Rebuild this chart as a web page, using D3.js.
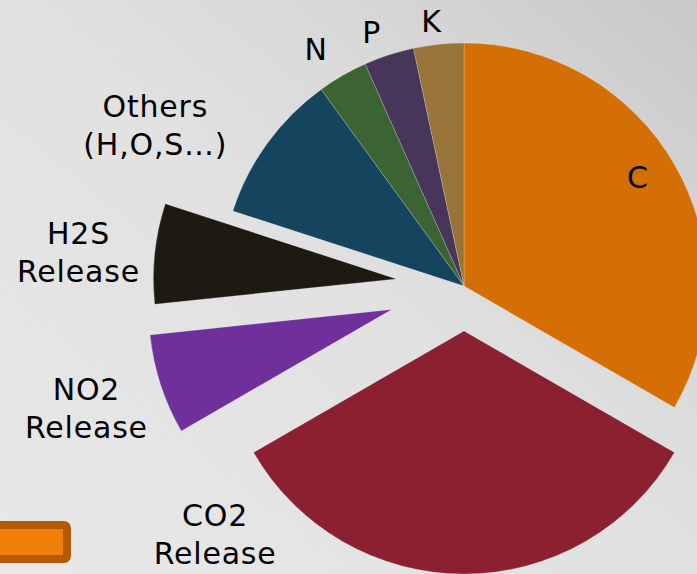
<!DOCTYPE html>
<html>
<head>
<meta charset="utf-8">
<title>Nutrient pie</title>
<script src="https://d3js.org/d3.v7.min.js"></script>
<style>
	html, body { margin: 0; padding: 0; overflow: hidden; }
	svg { display: block; }
	.lbl { font-family: "DejaVu Sans", Verdana, sans-serif; font-size: 30px; letter-spacing: 0.8px; fill: #000; text-anchor: middle; }
</style>
</head>
<body>
<svg width="697" height="574"></svg>
<script>
// slice names and values (clockwise from 12 o'clock)
var names = ["C", "CO2 Release", "NO2 Release", "H2S Release", "Others (H,O,S…)", "N", "P", "K"];
var values = [10, 10, 2, 2, 3, 1, 1, 1];
var colors = ["#d46f06", "#8b2030", "#70309c", "#1e1a12", "#15445e", "#3c6333", "#47365a", "#99743a"];
// how far each slice is pulled out of the pie
var explode = [0, 45, 76, 68, 0, 0, 0, 0];
// label lines
var labelLines = [["C"], ["CO2", "Release"], ["NO2", "Release"], ["H2S", "Release"], ["Others", "(H,O,S…)"], ["N"], ["P"], ["K"]];
// label place, polar from pie centre: [angle in degrees, radius]
var labelPolar = [[58, 205], [225, 352], [252, 397], [275, 387], [297.5, 348], [328, 279], [340, 270], [353, 266]];

var svg = d3.select("svg"),
	width = +svg.attr("width"),
	height = +svg.attr("height");

var defs = svg.append("defs");
var grad = defs.append("linearGradient")
	.attr("id", "bg")
	.attr("x1", 0).attr("y1", 1).attr("x2", 1).attr("y2", 0);
grad.append("stop").attr("offset", 0).attr("stop-color", "#e8e8e8");
grad.append("stop").attr("offset", 0.5).attr("stop-color", "#e1e1e1");
grad.append("stop").attr("offset", 0.75).attr("stop-color", "#d7d7d7");
grad.append("stop").attr("offset", 1).attr("stop-color", "#c8c8c8");

svg.append("rect")
	.attr("width", width).attr("height", height)
	.attr("fill", "url(#bg)");

// orange box bottom-left
svg.append("rect")
	.attr("x", -20).attr("y", 525)
	.attr("width", 87).attr("height", 34)
	.attr("rx", 3)
	.attr("fill", "#f07f0a")
	.attr("stroke", "#b45a06")
	.attr("stroke-width", 8);

var cx = 464, cy = 286, radius = 243;

var pie = d3.pie().sort(null).value(function(d) { return d; });
var arc = d3.arc().innerRadius(0).outerRadius(radius);
var arcs = pie(values);

var g = svg.append("g").attr("transform", "translate(" + cx + "," + cy + ")");

g.selectAll("path.slice")
	.data(arcs)
	.enter().append("path")
	.attr("class", "slice")
	.attr("d", arc)
	.attr("fill", function(d, i) { return colors[i]; })
	.attr("stroke", "rgba(255,255,255,0.3)")
	.attr("stroke-width", 0.7)
	.attr("transform", function(d, i) {
		var a = (d.startAngle + d.endAngle) / 2;
		return "translate(" + (Math.sin(a) * explode[i]) + "," + (-Math.cos(a) * explode[i]) + ")";
	});

var lineH = 38, cap = 21;
var lbl = g.selectAll("text.lbl")
	.data(arcs)
	.enter().append("text")
	.attr("class", "lbl")
	.attr("transform", function(d, i) {
		var a = labelPolar[i][0] * Math.PI / 180, r = labelPolar[i][1];
		return "translate(" + (Math.sin(a) * r) + "," + (-Math.cos(a) * r) + ")";
	});

lbl.each(function(d, i) {
	var lines = labelLines[i];
	var top = -(lines.length - 1) * lineH / 2 + cap / 2;
	d3.select(this).selectAll("tspan")
		.data(lines)
		.enter().append("tspan")
		.attr("x", 0)
		.attr("y", function(t, j) { return top + j * lineH; })
		.text(function(t) { return t; });
});
</script>
</body>
</html>
